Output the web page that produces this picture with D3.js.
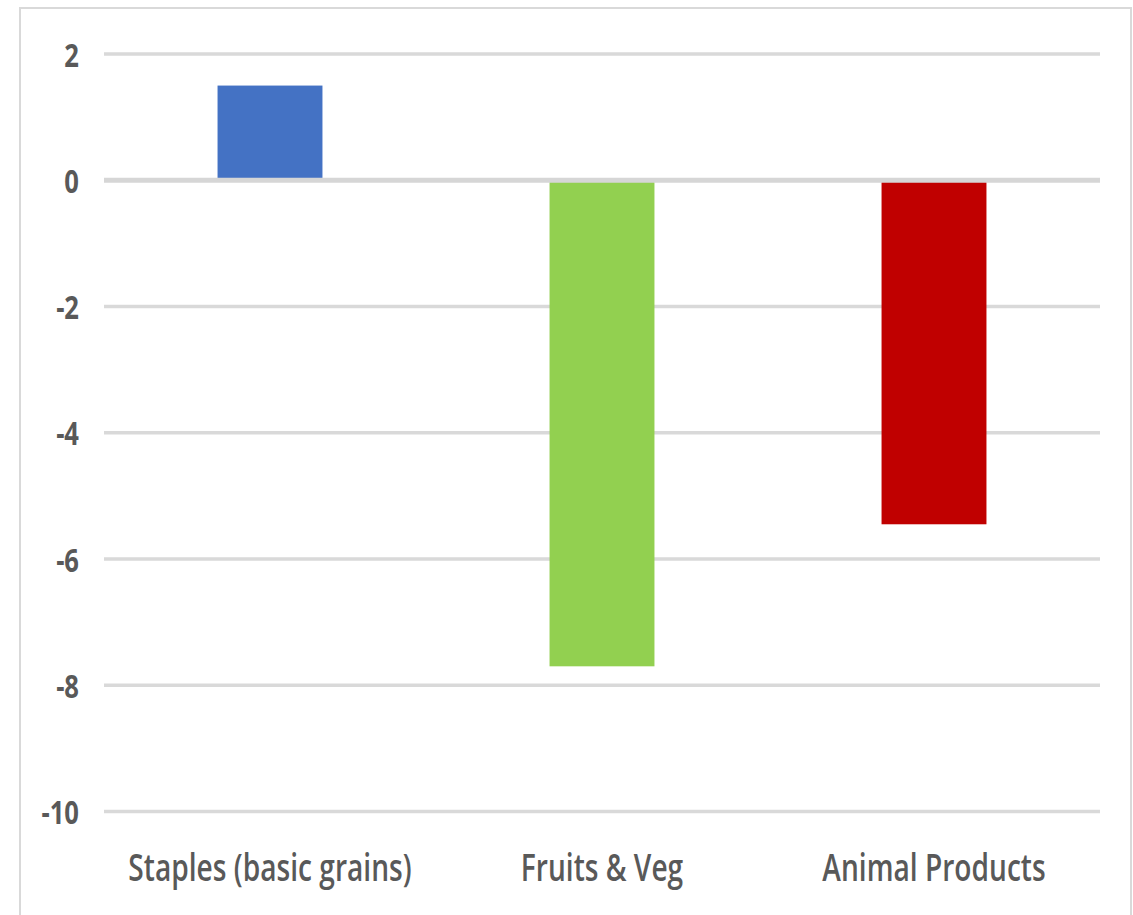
<!DOCTYPE html>
<html>
<head>
<meta charset="utf-8">
<script src="https://cdn.jsdelivr.net/npm/d3@7"></script>
<style>
  html, body { margin: 0; padding: 0; background: #ffffff; }
  svg { display: block; }
</style>
</head>
<body>
<script>
// Change by food group
const categories = ["Staples (basic grains)", "Fruits & Veg", "Animal Products"];
const values = [1.5, -7.7, -5.45];
const barColors = ["#4472C4", "#92D050", "#C00000"];
const yTicks = [2, 0, -2, -4, -6, -8, -10];

const W = 1133, H = 915;
const svg = d3.select("body").append("svg").attr("width", W).attr("height", H);

// chart frame
svg.append("rect")
  .attr("x", 20).attr("y", 8)
  .attr("width", 1111).attr("height", 920)
  .attr("fill", "#ffffff")
  .attr("stroke", "#d9d9d9").attr("stroke-width", 2);

const x = d3.scaleBand()
  .domain(categories)
  .range([104, 1100])
  .paddingInner(0.684)
  .paddingOuter(0.342);

const y = d3.scaleLinear().domain([-10, 2]).range([811.5, 54]);

// horizontal gridlines
svg.append("g").selectAll("line")
  .data(yTicks.filter(t => t !== 0))
  .join("line")
  .attr("x1", 104).attr("x2", 1100)
  .attr("y1", d => y(d)).attr("y2", d => y(d))
  .attr("stroke", "#d9d9d9").attr("stroke-width", 3.5);

// bars
svg.append("g").selectAll("rect")
  .data(values)
  .join("rect")
  .attr("x", (d, i) => x(categories[i]))
  .attr("width", x.bandwidth())
  .attr("y", d => y(Math.max(0, d)))
  .attr("height", d => Math.abs(y(d) - y(0)))
  .attr("fill", (d, i) => barColors[i]);

// zero axis line drawn over the bars
svg.append("line")
  .attr("x1", 104).attr("x2", 1100)
  .attr("y1", y(0)).attr("y2", y(0))
  .attr("stroke", "#d6d6d6").attr("stroke-width", 5);

// y tick labels
const tickSx = 0.8;
svg.append("g").selectAll("text")
  .data(yTicks)
  .join("text")
  .attr("transform", d => `translate(79,${y(d)}) scale(${tickSx},1)`)
  .attr("text-anchor", "end")
  .attr("dominant-baseline", "central")
  .attr("font-family", "'Open Sans', sans-serif")
  .attr("font-weight", 700)
  .attr("font-size", 32)
  .attr("fill", "#595959")
  .text(d => d);

// category labels
const catSx = 0.76;
svg.append("g").selectAll("text")
  .data(categories)
  .join("text")
  .attr("transform", d => `translate(${x(d) + x.bandwidth() / 2},881) scale(${catSx},1)`)
  .attr("text-anchor", "middle")
  .attr("font-family", "'Open Sans', sans-serif")
  .attr("font-weight", 600)
  .attr("font-size", 37)
  .attr("fill", "#595959")
  .text(d => d);
</script>
</body>
</html>
